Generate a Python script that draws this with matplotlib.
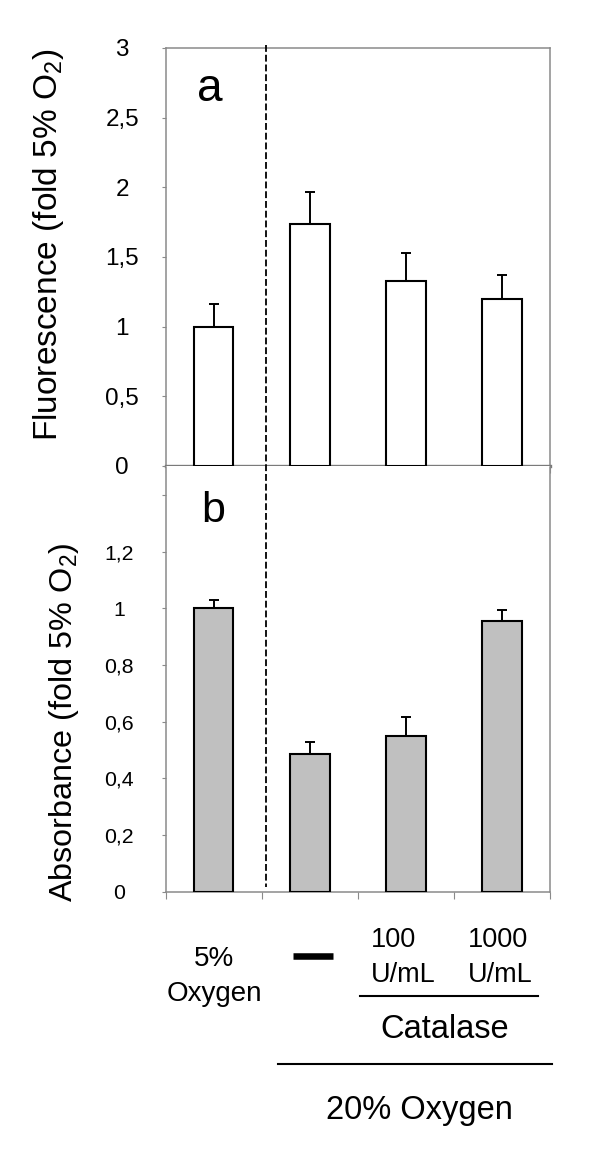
import matplotlib
matplotlib.use('Agg')
import matplotlib.pyplot as plt
import matplotlib.transforms as mtransforms
from matplotlib.lines import Line2D
import numpy as np

plt.rcParams['font.family'] = ['Liberation Sans', 'DejaVu Sans']
plt.rcParams['mathtext.fontset'] = 'custom'
plt.rcParams['mathtext.rm'] = 'Liberation Sans'
plt.rcParams['mathtext.it'] = 'Liberation Sans:italic'
plt.rcParams['mathtext.bf'] = 'Liberation Sans:bold'

# ---------------- data ----------------
groups = ["5% Oxygen", "20% Oxygen", "20% Oxygen + 100 U/mL catalase",
          "20% Oxygen + 1000 U/mL catalase"]
fluor_mean = [1.00, 1.74, 1.33, 1.20]
fluor_err = [0.16, 0.23, 0.20, 0.17]
absorb_mean = [1.00, 0.486, 0.55, 0.955]
absorb_err = [0.03, 0.042, 0.066, 0.038]

fluor_ticks = [0, 0.5, 1, 1.5, 2, 2.5, 3]
fluor_ticklabels = ["0", "0,5", "1", "1,5", "2", "2,5", "3"]
absorb_ticks = [0, 0.2, 0.4, 0.6, 0.8, 1.0, 1.2, 1.4]
absorb_ticklabels = ["0", "0,2", "0,4", "0,6", "0,8", "1", "1,2", ""]

label_line1 = ["5%", "", "100", "1000"]
label_line2 = ["Oxygen", "", "U/mL", "U/mL"]
catalase_label = "Catalase"
oxygen20_label = "20% Oxygen"
ylabel_a = "Fluorescence (fold 5% O$_{\\mathrm{2}}$)"
ylabel_b = "Absorbance (fold 5% O$_{\\mathrm{2}}$)"

# ---------------- figure ----------------
W, H = 600, 1175
fig = plt.figure(figsize=(W / 100, H / 100), dpi=100)

def fy(y):
    return 1 - y / H

L, R = 165.7, 550.0
ax1 = fig.add_axes([L / W, fy(466), (R - L) / W, (466 - 48) / H])
ax2 = fig.add_axes([L / W, fy(891.7), (R - L) / W, (891.7 - 466.5) / H])

x = np.arange(len(groups))
spine_col = '#8a8a8a'

ax1.bar(x, fluor_mean, width=0.41, color='white', edgecolor='black',
        linewidth=1.5, zorder=3)
ax1.errorbar(x, fluor_mean, yerr=[np.zeros(len(x)), fluor_err], fmt='none',
             ecolor='black', elinewidth=1.4, capsize=3.6, capthick=1.4, zorder=2)
ax2.bar(x, absorb_mean, width=0.41, color='#c0c0c0', edgecolor='black',
        linewidth=1.5, zorder=3)
ax2.errorbar(x, absorb_mean, yerr=[np.zeros(len(x)), absorb_err], fmt='none',
             ecolor='black', elinewidth=1.4, capsize=3.6, capthick=1.4, zorder=2)

ax1.set_ylim(0, 3)
ax2.set_ylim(0, 1.5)
for ax in (ax1, ax2):
    ax.set_xlim(-0.5, len(groups) - 0.5)
    ax.set_xticks([])
    ax.set_xticks(np.arange(len(groups) + 1) - 0.5, minor=True)
    ax.tick_params(axis='x', which='minor', direction='out', length=5,
                   width=0.8, color=spine_col, labelbottom=False)
    for s in ax.spines.values():
        s.set_color(spine_col)
        s.set_linewidth(1.1)
ax1.spines['bottom'].set_linewidth(2.4)
ax1.spines['bottom'].set_color('#7a7a7a')
ax2.spines['top'].set_visible(False)

ax1.set_yticks(fluor_ticks)
ax1.set_yticklabels(fluor_ticklabels)
ax1.tick_params(axis='y', direction='out', length=2.9, width=0.8,
                color=spine_col, pad=28.5, labelsize=17.5)
for t in ax1.get_yticklabels():
    t.set_ha('center')
    t.set_fontsize(17.5)

ax2.set_yticks(absorb_ticks)
ax2.set_yticklabels(absorb_ticklabels)
ax2.tick_params(axis='y', direction='out', length=2.9, width=0.8,
                color=spine_col, pad=30.5, labelsize=15.3)
for t in ax2.get_yticklabels():
    t.set_ha('center')
    t.set_fontsize(15.3)

# dashed separator across both panels
trans = mtransforms.blended_transform_factory(ax2.transData, fig.transFigure)
fig.add_artist(Line2D([0.54, 0.54], [fy(45), fy(887)], transform=trans,
                      color='black', lw=1.3, ls=(0, (3.8, 1.6))))

# panel letters
fig.text(210 / W, fy(100.7), "a", fontsize=33, ha='center', va='baseline')
fig.text(213 / W, fy(521.7), "b", fontsize=31, ha='center', va='baseline')

# y labels
fig.text(48.5 / W, fy(245), ylabel_a, rotation=90, ha='center', va='center',
         fontsize=24)
fig.text(64 / W, fy(722), ylabel_b, rotation=90, ha='center', va='center',
         fontsize=23.3)

# category labels
fig.text(0.0, fy(966), label_line1[0], transform=trans, ha='center',
         va='baseline', fontsize=20)
fig.text(0.01, fy(1001), label_line2[0], transform=trans, ha='center',
         va='baseline', fontsize=20)
for i in (2, 3):
    fig.text(i - 0.36, fy(946.7), label_line1[i], transform=trans, ha='left',
             va='baseline', fontsize=19.5)
    fig.text(i - 0.36, fy(981.7), label_line2[i], transform=trans, ha='left',
             va='baseline', fontsize=19.5)
# "no catalase" dash
fig.add_artist(Line2D([0.824, 1.245], [fy(956), fy(956)], transform=trans,
                      color='black', lw=4.7, solid_capstyle='butt'))
# group lines
fig.add_artist(Line2D([1.526, 3.379], [fy(996), fy(996)], transform=trans,
                      color='black', lw=1.5))
fig.text(2.40, fy(1038.3), catalase_label, transform=trans, ha='center',
         va='baseline', fontsize=23.5)
fig.add_artist(Line2D([0.674, 3.518], [fy(1064), fy(1064)], transform=trans,
                      color='black', lw=1.5))
fig.text(2.14, fy(1119.3), oxygen20_label, transform=trans, ha='center',
         va='baseline', fontsize=23.5)

fig.savefig('out.png', dpi=100)
